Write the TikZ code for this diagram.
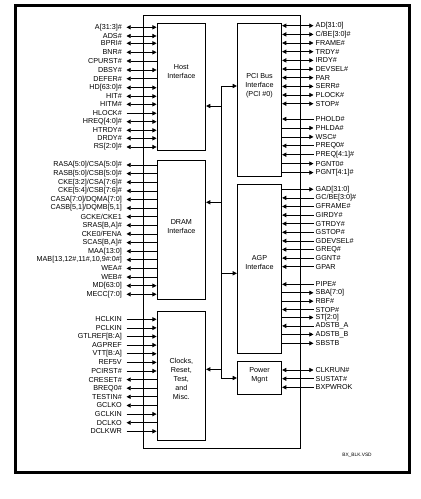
\documentclass[tikz,border=0pt]{standalone}
\usepackage{fontspec}
\setmainfont{Liberation Sans}
\usetikzlibrary{arrows.meta}
\newcommand{\sigfont}{\fontsize{7.2}{8.9}\selectfont}
\tikzset{
  blk/.style   ={draw, rectangle, inner sep=0pt, line width=0.8pt},
  btxt/.style  ={font=\sigfont, align=center, inner sep=0pt},
  lpin/.style  ={anchor=east, font=\sigfont, inner xsep=4.5pt, inner ysep=0pt},
  rpin/.style  ={anchor=west, font=\sigfont, inner xsep=2pt, inner ysep=0pt},
  wire/.style  ={line width=0.8pt},
  sigbi/.style ={wire, {Triangle[length=4.2pt,width=4.2pt]}-{Triangle[length=4.2pt,width=4.2pt]}}, % both ways
  sigout/.style={wire, {Triangle[length=4.2pt,width=4.2pt]}-},                                    % chip drives
  sigin/.style ={wire, -{Triangle[length=4.2pt,width=4.2pt]}},                                    % chip reads
}

\begin{document}
\begin{tikzpicture}[x=1pt, y=-1pt]
  \useasboundingbox (0,0) rectangle (421,499);
  % frame and chip
  \draw[line width=2.6pt] (15.3,5.3) rectangle (409.7,472.7);
  \draw[wire] (143,15) rectangle (300,448);

  % blocks
  \node[blk, minimum width=48.7pt, minimum height=127.4pt] (host) at (181.35,87)    {};
  \node[blk, minimum width=48.7pt, minimum height=139.3pt] (dram) at (181.35,229.65) {};
  \node[blk, minimum width=48.7pt, minimum height=129.7pt] (clk)  at (181.35,375.85) {};
  \node[blk, minimum width=44.4pt, minimum height=152.7pt] (pci)  at (259.5,99.65)  {};
  \node[blk, minimum width=44.4pt, minimum height=169.3pt] (agp)  at (259.5,268.65) {};
  \node[blk, minimum width=44.4pt, minimum height=33.3pt]  (pwr)  at (259.5,377.65) {};
  \node[btxt] (hostt) at (181.35,71.5)  {Host\\Interface};
  \node[btxt] (dramt) at (181.35,226.3) {DRAM\\Interface};
  \node[btxt] (clkt)  at (181.35,379)   {Clocks,\\Reset,\\Test,\\and\\Misc.};
  \node[btxt] (pcit)  at (259.5,86)     {PCI Bus\\Interface\\(PCI \#0)};
  \node[btxt] (agpt)  at (259.5,262.5)  {AGP\\Interface};
  \node[btxt] (pwrt)  at (259.5,375.3)  {Power\\Mgnt};

  % internal bus
  \coordinate (bustop) at (221,86);
  \coordinate (busbot) at (221,378);
  \coordinate (bhost)  at (221,106);
  \coordinate (bdram)  at (221,202.3);
  \coordinate (bclk)   at (221,369.3);
  \coordinate (bagp)   at (221,273.3);
  \draw[wire] (bustop) -- (busbot);
  \draw[sigin] (bustop) -- (pci.west |- bustop);
  \draw[sigin] (busbot) -- (pwr.west |- busbot);
  \draw[sigin] (bagp) -- (agp.west |- bagp);
  \draw[sigin] (bhost) -- (host.east |- bhost);
  \draw[sigin] (bdram) -- (dram.east |- bdram);
  \draw[sigin] (bclk) -- (clk.east |- bclk);

  % host pins
  \foreach \y/\sig/\dir [count=\i] in {27.3/A[31:3]\#/sigbi, 36/ADS\#/sigbi, 43.3/BPRI\#/sigbi,
      52.3/BNR\#/sigbi, 61/CPURST\#/sigout, 70/DBSY\#/sigbi, 78.7/DEFER\#/sigout,
      87.7/HD[63:0]\#/sigbi, 96.3/HIT\#/sigbi, 104.3/HITM\#/sigbi, 113.3/HLOCK\#/sigin,
      121.7/HREQ[4:0]\#/sigbi, 130.3/HTRDY\#/sigbi, 138.3/DRDY\#/sigbi, 147/RS[2:0]\#/sigbi}{
    \node[lpin] (h\i) at (126.5,\y) {\sig};
    \draw[\dir] (h\i.east) -- (host.west |- h\i.east);
  }

  % dram pins
  \foreach \y/\sig/\dir [count=\i] in {165/{RASA[5:0]/CSA[5:0]\#}/sigout,
      173.6/{RASB[5:0]/CSB[5:0]\#}/sigout, 182.2/{CKE[3:2]/CSA[7:6]\#}/sigout,
      190.9/{CKE[5:4]/CSB[7:6]\#}/sigout, 199.5/{CASA[7:0]/DQMA[7:0]}/sigout,
      208.1/{CASB[5,1]/DQMB[5,1]}/sigout, 216.7/{GCKE/CKE1}/sigout,
      225.3/{SRAS[B,A]\#}/sigout, 233.9/{CKE0/FENA}/sigout, 242.6/{SCAS[B,A]\#}/sigout,
      251.2/MAA[13:0]/sigout, 259.8/{MAB[13,12\#,11\#,10,9\#:0\#]}/sigout,
      268.4/WEA\#/sigout, 277.1/WEB\#/sigout, 285.7/MD[63:0]/sigbi, 294.3/MECC[7:0]/sigbi}{
    \node[lpin] (d\i) at (126.5,\y) {\sig};
    \draw[\dir] (d\i.east) -- (dram.west |- d\i.east);
  }

  % clock / misc pins
  \foreach \y/\sig/\dir [count=\i] in {319.3/HCLKIN/sigin, 327.9/PCLKIN/sigin,
      336.5/GTLREF[B:A]/sigin, 345.1/AGPREF/sigin, 353.8/VTT[B:A]/sigin, 362.4/REF5V/sigin,
      371/PCIRST\#/sigin, 379.6/CRESET\#/sigout, 388.2/BREQ0\#/sigout, 396.8/TESTIN\#/sigout,
      405.5/GCLKO/sigout, 414.1/GCLKIN/sigin, 422.7/DCLKO/sigout, 431.3/DCLKWR/sigin}{
    \node[lpin] (c\i) at (126.5,\y) {\sig};
    \draw[\dir] (c\i.east) -- (clk.west |- c\i.east);
  }

  % pci pins
  \foreach \y/\sig/\dir [count=\i] in {25.7/AD[31:0]/sigbi, 34.4/{C/BE[3:0]\#}/sigbi,
      43/FRAME\#/sigbi, 51.7/TRDY\#/sigbi, 60.4/IRDY\#/sigbi, 69/DEVSEL\#/sigbi, 77.7/PAR/sigbi,
      86.4/SERR\#/sigbi, 95/PLOCK\#/sigbi, 103.7/STOP\#/sigbi, 119/PHOLD\#/sigin,
      128/PHLDA\#/sigout, 136.9/WSC\#/sigout, 145.8/PREQ0\#/sigin, 154.7/PREQ[4:1]\#/sigin,
      163.6/PGNT0\#/sigout, 172.6/PGNT[4:1]\#/sigout}{
    \node[rpin] (p\i) at (313.5,\y) {\sig};
    \draw[\dir] (p\i.west) -- (pci.east |- p\i.west);
  }

  % agp pins
  \foreach \y/\sig/\dir [count=\i] in {189.3/GAD[31:0]/sigout, 197.9/{GC/BE[3:0]\#}/sigin,
      206.5/GFRAME\#/sigin, 215.1/GIRDY\#/sigin, 223.7/GTRDY\#/sigin, 232.3/GSTOP\#/sigin,
      240.9/GDEVSEL\#/sigin, 249.5/GREQ\#/sigin, 258.1/GGNT\#/sigin, 266.7/GPAR/sigin,
      284.3/PIPE\#/sigin, 292.8/SBA[7:0]/sigout, 301.2/RBF\#/sigout, 309.6/STOP\#/sigin,
      317.5/ST[2:0]/sigout, 325.9/ADSTB\_A/sigin, 334.4/ADSTB\_B/sigout, 343.3/SBSTB/sigout}{
    \node[rpin] (g\i) at (313.5,\y) {\sig};
    \draw[\dir] (g\i.west) -- (agp.east |- g\i.west);
  }

  % power pins
  \foreach \y/\sig/\dir [count=\i] in {370/CLKRUN\#/sigbi, 378.7/SUSTAT\#/sigin,
      387.3/BXPWROK/sigin}{
    \node[rpin] (w\i) at (313.5,\y) {\sig};
    \draw[\dir] (w\i.west) -- (pwr.east |- w\i.west);
  }

  \node[font=\fontsize{4.8}{5}\selectfont, inner sep=0pt] (fname) at (357,455) {BX\_BLK.VSD};
\end{tikzpicture}
\end{document}
